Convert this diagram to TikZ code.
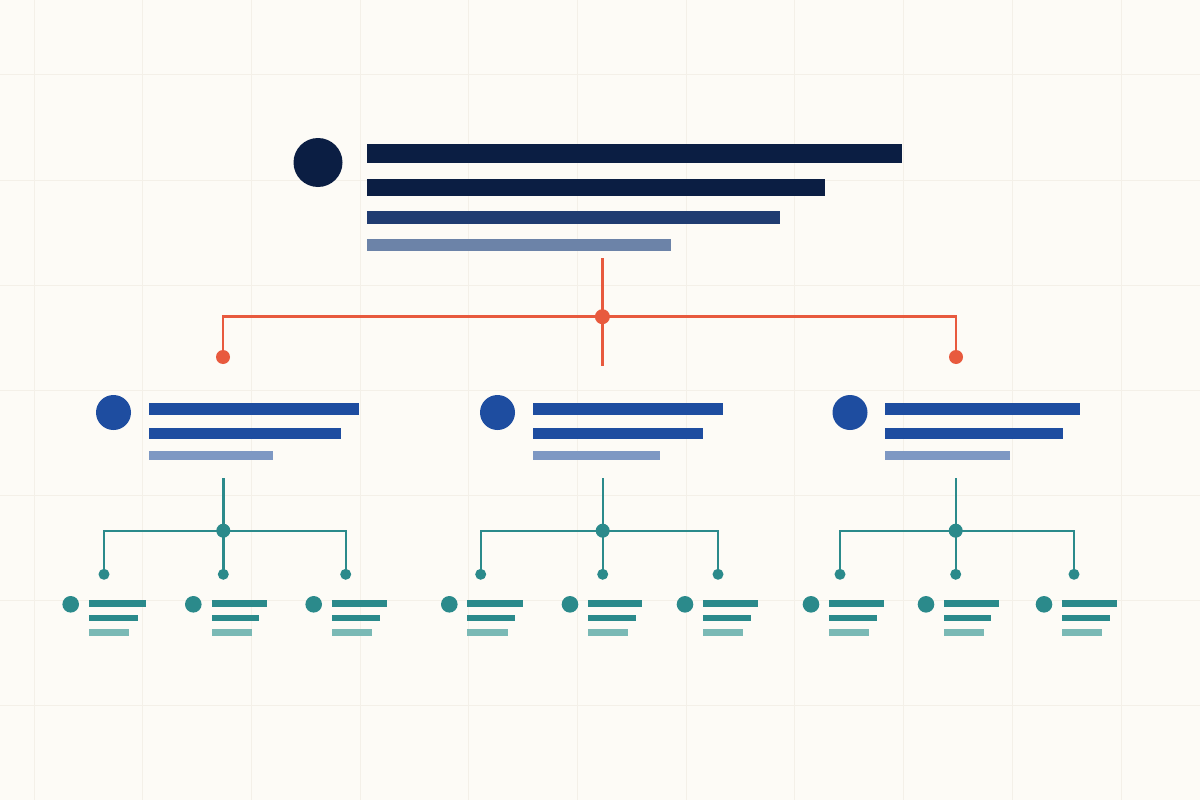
\documentclass[tikz,border=0pt]{standalone}
\pgfdeclarelayer{bg}
\pgfdeclarelayer{lines}
\pgfsetlayers{bg,lines,main}
\definecolor{paper}{HTML}{FDFBF6}
\definecolor{gridc}{HTML}{F4F0E8}
\definecolor{navy}{HTML}{0B1E43}
\definecolor{navymid}{HTML}{203C71}
\definecolor{navylight}{HTML}{6C83A8}
\definecolor{redc}{HTML}{E85A3E}
\definecolor{bluec}{HTML}{1E4DA0}
\definecolor{bluelight}{HTML}{7E98C3}
\definecolor{tealc}{HTML}{2B8A8B}
\definecolor{teallight}{HTML}{7AB9B5}
\tikzset{
  barbox/.style={rectangle, inner sep=0pt, outer sep=0pt, anchor=north west, draw=none},
  dotnode/.style={circle, inner sep=0pt, outer sep=0pt, draw=none},
  redline/.style={draw=redc, line width=2.6pt},
  tealline/.style={draw=tealc, line width=2.4pt},
  gridline/.style={draw=gridc, line width=1pt}
}
\newcommand\pbar[6]{\node[barbox, fill=#6, minimum width={(#4-#2)*1pt}, minimum height={(#5-#3)*1pt}] (#1) at (#2,#3) {};}
\newcommand\pdot[5]{\node[dotnode, fill=#5, minimum size={2*#4*1pt}] (#1) at (#2,#3) {};}
\begin{document}
\begin{tikzpicture}[x=1pt,y=-1pt]
\useasboundingbox (0,0) rectangle (1200,800);
\begin{pgfonlayer}{bg}
  \fill[paper] (0,0) rectangle (1200,800);
  \foreach \k in {0,...,10} {\draw[gridline] ({34+108.7*\k},0) -- ({34+108.7*\k},800);}
  \foreach \k in {0,...,6} {\draw[gridline] (0,{75+105*\k}) -- (1200,{75+105*\k});}
\end{pgfonlayer}

% ---- top block
\pdot{top}{318}{162.5}{24.5}{navy}
\pbar{t1}{366.5}{144.3}{901.6}{163.3}{navy}
\pbar{t2}{366.5}{179.3}{824.5}{196.3}{navy}
\pbar{t3}{366.5}{211}{780.4}{224}{navymid}
\pbar{t4}{366.5}{239.3}{671.4}{250.7}{navylight}

% ---- red connector
\coordinate (rtop) at (602.4,258);
\coordinate (rbot) at (602.4,365.7);
\pdot{rj}{602.4}{316.7}{7.5}{redc}
\pdot{rl}{223}{357}{7}{redc}
\pdot{rr}{956}{357}{7}{redc}
\begin{pgfonlayer}{lines}
  \draw[redline] (rtop) -- (rbot);
  \draw[redline] (rl.center) |- (rj.center) -| (rr.center);
\end{pgfonlayer}

% ---- middle groups
\newcommand\midgroup[6]{%
  \pdot{#1c}{#2}{412.5}{17.5}{bluec}
  \pbar{#1b1}{#3}{403.3}{#4}{415.3}{bluec}
  \pbar{#1b2}{#3}{428.3}{#5}{438.7}{bluec}
  \pbar{#1b3}{#3}{451.3}{#6}{460.3}{bluelight}
}
\midgroup{L}{113.5}{149.3}{359}{341}{272.7}
\midgroup{M}{497.5}{532.7}{723.3}{703.3}{660}
\midgroup{R}{850}{885.3}{1080.3}{1063}{1010}

% ---- teal connectors
\newcommand\tealtree[4]{%
  \coordinate (#1top) at (#2,478);
  \pdot{#1j}{#2}{530.7}{7}{tealc}
  \pdot{#1d1}{#3}{574.3}{5.5}{tealc}
  \pdot{#1d2}{#2}{574.3}{5.5}{tealc}
  \pdot{#1d3}{#4}{574.3}{5.5}{tealc}
  \begin{pgfonlayer}{lines}
    \draw[tealline] (#1top) -- (#1j.center) -- (#1d2.center);
    \draw[tealline] (#1d1.center) |- (#1j.center) -| (#1d3.center);
  \end{pgfonlayer}
}
\tealtree{L}{223.3}{104}{345.7}
\tealtree{M}{602.7}{480.7}{718}
\tealtree{R}{955.7}{840}{1074}

% ---- leaves
\newcommand\leaf[6]{%
  \pdot{#1c}{#2}{604.3}{8.3}{tealc}
  \pbar{#1b1}{#3}{600}{#4}{606.7}{tealc}
  \pbar{#1b2}{#3}{615}{#5}{621.3}{tealc}
  \pbar{#1b3}{#3}{629.3}{#6}{636}{teallight}
}
\leaf{La}{70.7}{89}{146}{137.7}{129.3}
\leaf{Lb}{193.3}{212}{266.7}{259.3}{251.7}
\leaf{Lc}{313.7}{332}{387.3}{380}{372.3}
\leaf{Ma}{449.3}{467.3}{522.7}{515}{507.7}
\leaf{Mb}{570}{588}{642.3}{635.7}{627.7}
\leaf{Mc}{685}{703.3}{758}{750.7}{743}
\leaf{Ra}{811}{829.3}{884}{877}{869}
\leaf{Rb}{926}{944.3}{998.7}{991.3}{983.7}
\leaf{Rc}{1044}{1062.3}{1116.7}{1110}{1102.3}
\end{tikzpicture}
\end{document}
